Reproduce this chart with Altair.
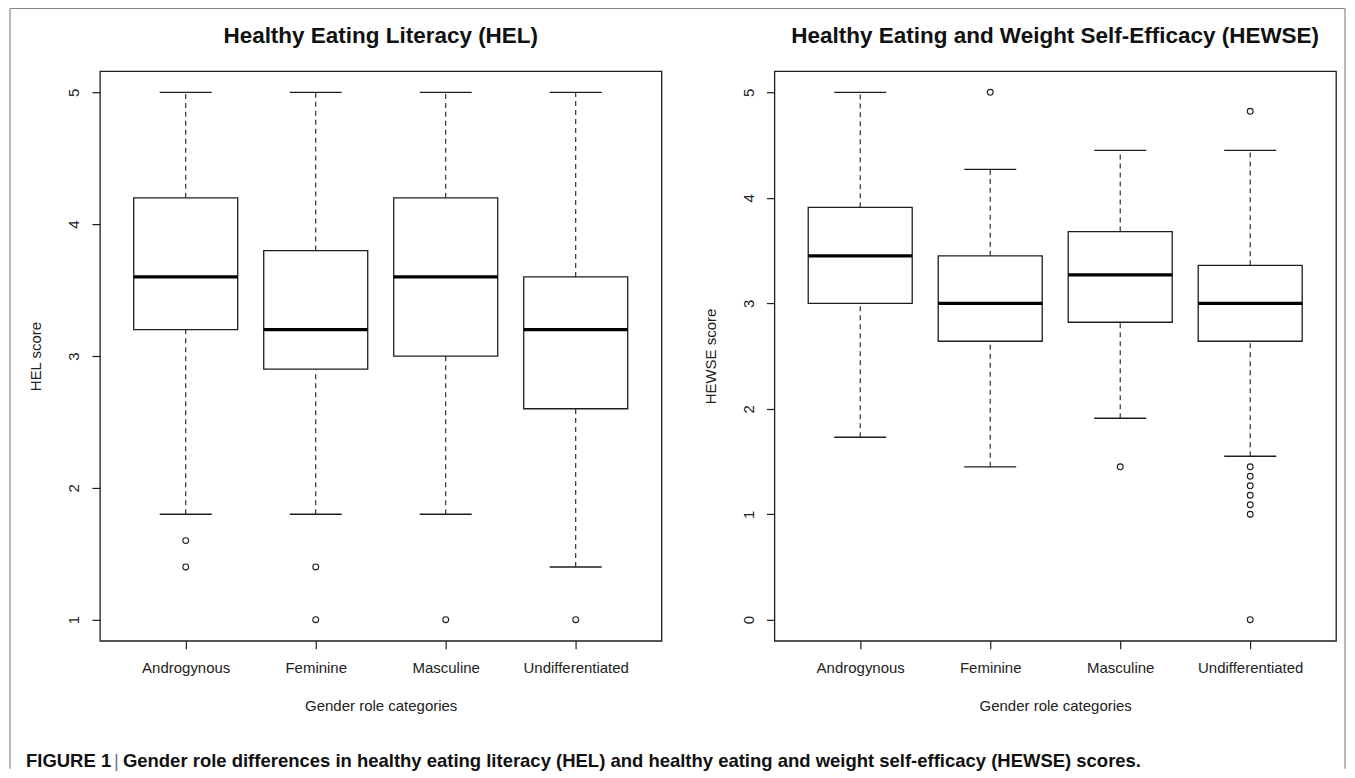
import json
import altair as alt
import pandas as pd

# ---------------- data ----------------
categories = ["Androgynous", "Feminine", "Masculine", "Undifferentiated"]

hel_lower = [1.8, 1.8, 1.8, 1.4]
hel_q1 = [3.2, 2.9, 3.0, 2.6]
hel_median = [3.6, 3.2, 3.6, 3.2]
hel_q3 = [4.2, 3.8, 4.2, 3.6]
hel_upper = [5.0, 5.0, 5.0, 5.0]
hel_outlier_groups = ["Androgynous", "Androgynous", "Feminine", "Feminine",
                      "Masculine", "Undifferentiated"]
hel_outlier_values = [1.6, 1.4, 1.4, 1.0, 1.0, 1.0]

hewse_lower = [1.73, 1.45, 1.91, 1.55]
hewse_q1 = [3.0, 2.64, 2.82, 2.64]
hewse_median = [3.45, 3.0, 3.27, 3.0]
hewse_q3 = [3.91, 3.45, 3.68, 3.36]
hewse_upper = [5.0, 4.27, 4.45, 4.45]
hewse_outlier_groups = ["Feminine", "Masculine"] + ["Undifferentiated"] * 8
hewse_outlier_values = [5.0, 1.45, 4.82, 1.45, 1.36, 1.27, 1.18, 1.09, 1.0, 0.0]

hel_yticks = [1, 2, 3, 4, 5]
hewse_yticks = [0, 1, 2, 3, 4, 5]

caption_label = "FIGURE 1"
caption_sep = "|"
caption_body = ("Gender role differences in healthy eating literacy (HEL) "
                "and healthy eating and weight self-efficacy (HEWSE) scores.")

# ---------------- style ----------------
FONT = "Liberation Sans"
INK = "#1e1e1e"
PANEL_W, PANEL_H = 562, 570
BOX_HALF = 0.4
CAP_HALF = 0.2

label_expr = json.dumps(categories) + "[datum.value - 1]"
one = pd.DataFrame({"k": [0]})


def panel(title, ylabel, lower, q1, med, q3, upper, og, ov, ydomain, yticks, extras=()):
    stats = pd.DataFrame({
        "group": categories,
        "pos": list(range(1, len(categories) + 1)),
        "lower": lower, "q1": q1, "median": med, "q3": q3, "upper": upper,
    })
    outl = pd.DataFrame({
        "group": og,
        "pos": [categories.index(g) + 1 for g in og],
        "value": ov,
    })
    xscale = alt.Scale(domain=[0.34, 4.66], nice=False, zero=False)
    yscale = alt.Scale(domain=ydomain, nice=False, zero=False)
    xaxis = alt.Axis(values=[1, 2, 3, 4], labelExpr=label_expr,
                     title="Gender role categories")
    yaxis = alt.Axis(values=yticks, title=ylabel, format="d",
                     labelAngle=-90, labelAlign="center",
                     labelBaseline="alphabetic")

    def X(f):
        return alt.X(f, scale=xscale, axis=xaxis)

    def Y(f):
        return alt.Y(f, scale=yscale, axis=yaxis)

    base = alt.Chart(stats).transform_calculate(
        bl=f"datum.pos - {BOX_HALF}", br=f"datum.pos + {BOX_HALF}",
        cl=f"datum.pos - {CAP_HALF}", cr=f"datum.pos + {CAP_HALF}",
    )

    whisk_hi = base.mark_rule(color=INK, strokeWidth=1.1, strokeDash=[5, 4]).encode(
        x=X("pos:Q"), y=Y("q3:Q"), y2="upper:Q")
    whisk_lo = base.mark_rule(color=INK, strokeWidth=1.1, strokeDash=[5, 4]).encode(
        x=X("pos:Q"), y=Y("lower:Q"), y2="q1:Q")
    cap_hi = base.mark_rule(color=INK, strokeWidth=1.3).encode(
        x=X("cl:Q"), x2="cr:Q", y=Y("upper:Q"))
    cap_lo = base.mark_rule(color=INK, strokeWidth=1.3).encode(
        x=X("cl:Q"), x2="cr:Q", y=Y("lower:Q"))
    box = base.mark_rect(fill="white", stroke=INK, strokeWidth=1.3).encode(
        x=X("bl:Q"), x2="br:Q", y=Y("q1:Q"), y2="q3:Q")
    median = base.mark_rule(color="#000000", strokeWidth=3.2).encode(
        x=X("bl:Q"), x2="br:Q", y=Y("median:Q"))
    points = alt.Chart(outl).mark_point(
        shape="circle", filled=False, size=34, strokeWidth=1.1, color=INK, opacity=1
    ).encode(x=X("pos:Q"), y=Y("value:Q"))

    title_text = alt.Chart(one).mark_text(
        align="center", baseline="alphabetic", font=FONT, fontSize=22.5,
        fontWeight="bold", color="#111111").encode(
        x=alt.value(PANEL_W / 2), y=alt.value(-28), text=alt.value(title))

    return alt.layer(whisk_hi, whisk_lo, cap_hi, cap_lo, box, median, points,
                     title_text, *extras).properties(width=PANEL_W, height=PANEL_H)


BORDER = "#8a8a8a"
B_TOP = -63
border_left = alt.Chart(one).mark_rule(color=BORDER, strokeWidth=1.2).encode(
    x=alt.value(-90), y=alt.value(B_TOP), y2=alt.value(698))
border_top = alt.Chart(one).mark_rule(color=BORDER, strokeWidth=1.2).encode(
    x=alt.value(-90), x2=alt.value(1246), y=alt.value(B_TOP))
border_right = alt.Chart(one).mark_rule(color=BORDER, strokeWidth=1.2).encode(
    x=alt.value(1246), y=alt.value(B_TOP), y2=alt.value(698))

CAP_Y = 690
cap_label = alt.Chart(one).mark_text(
    align="left", baseline="middle", font=FONT, fontSize=18.5, fontWeight="bold",
    color="#111111").encode(
    x=alt.value(-74), y=alt.value(CAP_Y), text=alt.value(caption_label))
cap_sep = alt.Chart(one).mark_text(
    align="left", baseline="middle", font=FONT, fontSize=18.5, fontWeight="normal",
    color="#777777").encode(
    x=alt.value(14), y=alt.value(CAP_Y), text=alt.value(caption_sep))
cap_body = alt.Chart(one).mark_text(
    align="left", baseline="middle", font=FONT, fontSize=18.5, fontWeight="bold",
    color="#111111").encode(
    x=alt.value(23), y=alt.value(CAP_Y), text=alt.value(caption_body))

left = panel("Healthy Eating Literacy (HEL)", "HEL score",
             hel_lower, hel_q1, hel_median, hel_q3, hel_upper,
             hel_outlier_groups, hel_outlier_values, [0.84, 5.16], hel_yticks,
             extras=(border_left, border_top, border_right, cap_label, cap_sep, cap_body))
right = panel("Healthy Eating and Weight Self-Efficacy (HEWSE)", "HEWSE score",
              hewse_lower, hewse_q1, hewse_median, hewse_q3, hewse_upper,
              hewse_outlier_groups, hewse_outlier_values, [-0.2, 5.2], hewse_yticks)

chart = alt.hconcat(left, right, spacing=113).properties(
    bounds="flush",
    padding={"left": 0, "top": -2, "right": 0, "bottom": 0},
    background="white",
).configure_view(
    stroke=INK, strokeWidth=1.3
).configure_axis(
    grid=False, domain=False,
    tickColor=INK, tickWidth=1.2, tickSize=8,
    labelFont=FONT, labelFontSize=15, labelColor="#222222",
    titleFont=FONT, titleFontSize=15, titleFontWeight="normal", titleColor="#222222",
).configure_axisX(
    labelPadding=12, titlePadding=23,
).configure_axisY(
    labelPadding=13, titlePadding=23,
)

chart.save("out.html", embed_options={"renderer": "svg", "actions": False})
